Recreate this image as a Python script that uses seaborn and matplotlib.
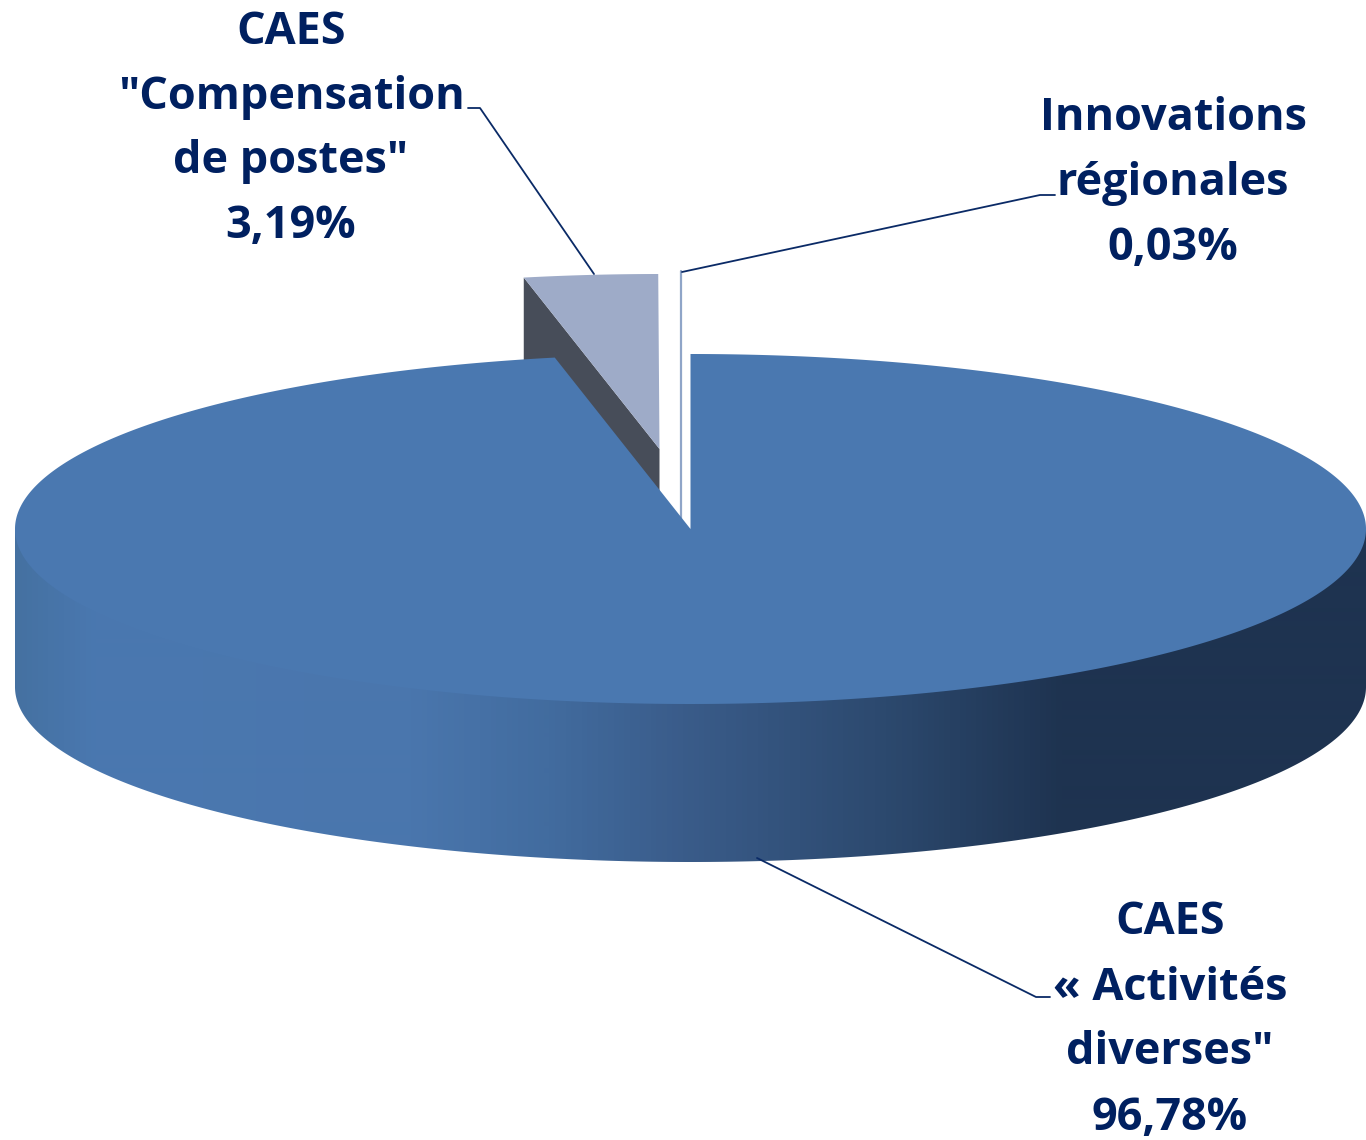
import numpy as np
import matplotlib
matplotlib.use('Agg')
import matplotlib.pyplot as plt
from matplotlib.colors import LinearSegmentedColormap
from matplotlib.patches import Polygon
import seaborn as sns

# data
categories = ['CAES « Activités diverses"', 'CAES "Compensation de postes"', 'Innovations régionales']
shares = [96.78, 3.19, 0.03]
label_lines = [
    ['CAES', '« Activités', 'diverses"', '96,78%'],
    ['CAES', '"Compensation', 'de postes"', '3,19%'],
    ['Innovations', 'régionales', '0,03%'],
]

sns.set_theme(style='white')
plt.rcParams['font.family'] = ['Open Sans', 'DejaVu Sans']

# pie shape in pixels
cx, cy = 690.5, 529
rx, ry = 675.5, 175
depth = 158
navy = '#002060'
top_colors = sns.color_palette(['#4a78b0', '#9eabc8', '#ffffff'])
cut_color = '#474d59'
edge_color = '#8fa5c8'
offsets = [(0, 0), (-31, -80), (-8, -83)]
side_stops = [(0.0, '#44709f'), (0.07, '#4a78b0'), (0.3, '#4a76ad'), (0.4, '#426c9f'),
              (0.5, '#3a5c8a'), (0.65, '#2c496e'), (0.78, '#1e3350'), (1.0, '#1e3350')]
side_cmap = LinearSegmentedColormap.from_list('side', side_stops)


def rim(a, b, n=300):
    t = np.radians(np.linspace(a, b, n))
    return cx + rx * np.sin(t), cy - ry * np.cos(t)


fig = plt.figure(figsize=(13.66, 11.40), dpi=100)
ax = fig.add_axes([0, 0, 1, 1])
ax.axis('off')

ends = np.cumsum(shares) / sum(shares) * 360
starts = np.r_[0, ends[:-1]]

# exploded pieces first, the big one goes over them
for i in [1, 2]:
    dx, dy = offsets[i]
    x, y = rim(starts[i], ends[i], 40)
    x = x + dx
    y = y + dy
    tx, ty = cx + dx, cy + dy
    if i == 1:
        ax.fill([x[0], tx, tx, x[0]], [y[0], ty, ty + depth, y[0] + depth],
                color=cut_color, lw=0, zorder=2)
        ax.fill(np.r_[tx, x], np.r_[ty, y], color=top_colors[i], lw=0, zorder=3)
    else:
        ax.fill(np.r_[tx, x], np.r_[ty, y], color=top_colors[i], lw=0, zorder=3)
        ax.plot([x[0], x[0]], [y[0], ty + depth], color=edge_color, lw=1.6, zorder=3)

# side of the big slice, gradient clipped to the outline
# upper edge runs under the top face so no seam shows
sx, sy = rim(90, 270, 500)
outline = np.c_[np.r_[sx, sx[::-1]], np.r_[np.full(500, cy), sy[::-1] + depth]]
grad = ax.imshow(np.linspace(0, 1, 1366)[None, :], cmap=side_cmap, aspect='auto',
                 extent=(0, 1366, 1140, 0), zorder=4, interpolation='bilinear')
grad.set_clip_path(Polygon(outline, transform=ax.transData))

# top of the big slice
x, y = rim(starts[0], ends[0], 900)
ax.fill(np.r_[cx, x], np.r_[cy, y], color=top_colors[0], lw=0, zorder=5)

# leader lines
leaders = [
    ([757, 1036, 1050], [858, 997, 997]),
    ([468, 480, 594], [108, 108, 274]),
    ([1055, 1040, 682], [195, 195, 272]),
]
for lx, ly in leaders:
    ax.plot(lx, ly, color='#0a2a66', lw=1.3, zorder=6)

# labels, one text per line
label_pos = [(1170, [922, 988, 1053, 1118]), (291, [33, 97, 162, 227]), (1173, [118, 183, 248])]
for lines, (lx, ys) in zip(label_lines, label_pos):
    for s, ly in zip(lines, ys):
        ax.text(lx, ly, s, ha='center', va='center', color=navy, fontsize=32.4,
                fontweight='bold', zorder=7)

ax.set_xlim(0, 1366)
ax.set_ylim(1140, 0)
fig.savefig('out.png', dpi=100)
